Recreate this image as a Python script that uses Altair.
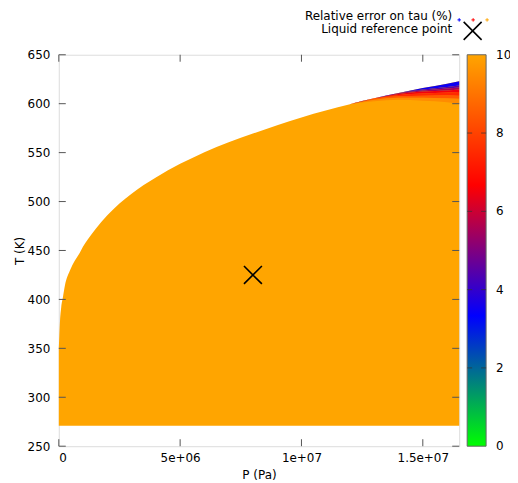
import altair as alt
import pandas as pd

# Saturation boundary of the plotted region
sat_P = [0, 2e4, 5e4, 1e5, 1.75e5, 2.5e5, 4.5e5, 6e5, 8.6e5, 1.0e6, 1.2e6, 1.5e6, 2e6, 3e6,
         4e6, 5e6, 6e6, 7e6, 8e6, 9e6, 1e7, 1.1e7, 1.2e7, 1.3e7, 1.4e7, 1.5e7, 1.6e7, 1.65e7]
sat_T = [350, 362, 378, 392, 403, 414, 429, 437, 447.5, 454, 461.5, 471.5, 486, 508,
         524.5, 538.5, 550.5, 560.5, 569.5, 578, 586, 593, 599.5, 605.5, 611, 616, 620.5, 623]
T_min = 271

# Coloured strip below the boundary at high pressure: depth (K) below the curve
# where the relative error drops under each band's value
band_P = [1.2e7, 1.3e7, 1.4e7, 1.5e7, 1.6e7, 1.65e7]
band_err = [9.5, 8.5, 7.5, 6.5, 5.5, 4.5, 3.5]
band_depth = [
    [0, 3.0, 7.0, 13.0, 19.0, 23.0],
    [0, 1.5, 5.0, 10.0, 15.0, 18.0],
    [0, 0.5, 3.5, 8.0, 12.0, 15.0],
    [0, 0.0, 2.0, 5.5, 9.0, 11.0],
    [0, 0.0, 1.0, 3.5, 7.0, 8.5],
    [0, 0.0, 0.3, 2.5, 5.0, 6.5],
    [0, 0.0, 0.0, 1.5, 3.5, 4.5],
]

ref_P = [8e6]
ref_T = [425]

x_ticks = [0, 5e6, 1e7, 1.5e7]
x_tick_labels = ["0", "5e+06", "1e+07", "1.5e+07"]
y_ticks = [250, 300, 350, 400, 450, 500, 550, 600, 650]
cbar_ticks = [0, 2, 4, 6, 8, 10]
cbar_min, cbar_max = 0, 10

pal_domain = [0, 10 / 3, 20 / 3, 10]
pal_range = ["#00ff00", "#0000ff", "#ff0000", "#ffa500"]

key_labels = ["Relative error on tau (%)", "Liquid reference point"]
key_sample_colors = ["#0000ff", "#ff0000", "#ffa500"]

FONT = "DejaVu Sans"
W, H = 402, 393
TICK = 7
T_LO, T_HI = 250, 650
CB_X0, CB_W = W + 8, 19

base_df = pd.DataFrame({"P": sat_P, "T": sat_T, "Tlo": [T_min] * len(sat_P)})
tsat = dict(zip(sat_P, sat_T))
rows = []
for k, e in enumerate(band_err):
    for i, p in enumerate(band_P):
        lo = tsat[p] - band_depth[k][i]
        hi = tsat[p] - (band_depth[k + 1][i] if k + 1 < len(band_err) else 0)
        rows.append({"P": p, "lo": lo, "hi": hi, "err": e, "band": k})
band_df = pd.DataFrame(rows)

label_expr = " : ".join(
    f"datum.value == {v} ? '{l}'" for v, l in zip(x_ticks, x_tick_labels)
) + " : ''"

xscale = alt.Scale(domain=[0, 1.65e7], nice=False)
yscale = alt.Scale(domain=[T_LO, T_HI], nice=False)

xaxis = alt.Axis(values=x_ticks, labelExpr=label_expr, ticks=False, domain=False, grid=False,
                 title="P (Pa)", labelPadding=6, titlePadding=6, labelFontSize=12,
                 titleFontSize=12, titleFontWeight="normal", labelFont=FONT, titleFont=FONT,
                 labelColor="#000", titleColor="#000")
yaxis = alt.Axis(values=y_ticks, ticks=False, domain=False, grid=False, title="T (K)",
                 labelPadding=9, titlePadding=1, labelFontSize=12, titleFontSize=12,
                 titleFontWeight="normal", labelFont=FONT, titleFont=FONT,
                 labelColor="#000", titleColor="#000")

base = alt.Chart(base_df).mark_area(color="#ffa500", opacity=1, interpolate="monotone").encode(
    x=alt.X("P:Q", scale=xscale, axis=xaxis),
    y=alt.Y("Tlo:Q", scale=yscale, axis=yaxis),
    y2="T:Q",
)

bands = alt.Chart(band_df).mark_area(opacity=1, strokeWidth=0, interpolate="monotone").encode(
    x=alt.X("P:Q", scale=xscale),
    y=alt.Y("lo:Q", scale=yscale),
    y2="hi:Q",
    color=alt.Color("err:Q",
                    scale=alt.Scale(domain=pal_domain, range=pal_range, interpolate="rgb"),
                    legend=None),
    detail="band:N",
)

# colour bar
stops = [alt.GradientStop(offset=(d - cbar_min) / (cbar_max - cbar_min), color=c)
         for d, c in zip(pal_domain, pal_range)]
cbar = alt.Chart(pd.DataFrame({"a": [0]})).mark_rect(
    color=alt.Gradient(gradient="linear", stops=stops, x1=0, x2=0, y1=1, y2=0),
    stroke="#666", strokeWidth=1,
).encode(x=alt.value(CB_X0), x2=alt.value(CB_X0 + CB_W), y=alt.value(0), y2=alt.value(H))

cb_df = pd.DataFrame({"v": cbar_ticks})
cb_pos = f"{T_LO} + (datum.v - {cbar_min}) / ({cbar_max} - {cbar_min}) * ({T_HI} - {T_LO})"
cbar_labels = alt.Chart(cb_df).transform_calculate(
    pos=cb_pos, lab="format(datum.v, 'd')",
).mark_text(align="left", baseline="middle", font=FONT, fontSize=12, color="#000").encode(
    y=alt.Y("pos:Q", scale=yscale), x=alt.value(CB_X0 + CB_W + 10), text="lab:N")
cb_inner = cb_df[(cb_df.v > cbar_min) & (cb_df.v < cbar_max)]
cbar_t1 = alt.Chart(cb_inner).transform_calculate(pos=cb_pos).mark_rule(
    color="#333", strokeWidth=1, opacity=0.7).encode(
    y=alt.Y("pos:Q", scale=yscale), x=alt.value(CB_X0), x2=alt.value(CB_X0 + 5))
cbar_t2 = alt.Chart(cb_inner).transform_calculate(pos=cb_pos).mark_rule(
    color="#333", strokeWidth=1, opacity=0.7).encode(
    y=alt.Y("pos:Q", scale=yscale), x=alt.value(CB_X0 + CB_W - 5), x2=alt.value(CB_X0 + CB_W))

ref = alt.Chart(pd.DataFrame({"P": ref_P, "T": ref_T})).mark_point(
    shape="M-1,-1L1,1M-1,1L1,-1", size=324, filled=False, color="black", strokeWidth=1.6,
    opacity=1,
).encode(x=alt.X("P:Q", scale=xscale), y=alt.Y("T:Q", scale=yscale))

xt = pd.DataFrame({"P": x_ticks})
yt = pd.DataFrame({"T": y_ticks})
tick_color = "#555"
xt_bot = alt.Chart(xt).mark_rule(color=tick_color, strokeWidth=1).encode(
    x=alt.X("P:Q", scale=xscale), y=alt.value(H), y2=alt.value(H - TICK))
xt_top = alt.Chart(xt).mark_rule(color=tick_color, strokeWidth=1).encode(
    x=alt.X("P:Q", scale=xscale), y=alt.value(0), y2=alt.value(TICK))
yt_left = alt.Chart(yt).mark_rule(color=tick_color, strokeWidth=1).encode(
    y=alt.Y("T:Q", scale=yscale), x=alt.value(0), x2=alt.value(TICK))
yt_right = alt.Chart(yt).mark_rule(color=tick_color, strokeWidth=1).encode(
    y=alt.Y("T:Q", scale=yscale), x=alt.value(W), x2=alt.value(W - TICK))

key_text1 = alt.Chart(pd.DataFrame({"t": [key_labels[0]]})).mark_text(
    align="right", baseline="middle", font=FONT, fontSize=12, color="#000"
).encode(text="t:N", x=alt.value(395), y=alt.value(-39))
key_text2 = alt.Chart(pd.DataFrame({"t": [key_labels[1]]})).mark_text(
    align="right", baseline="middle", font=FONT, fontSize=12, color="#000"
).encode(text="t:N", x=alt.value(395), y=alt.value(-26))

plus_shape = "M-1,0L1,0M0,-1L0,1"
key_plus = []
for xv, col in zip([402, 416, 430], key_sample_colors):
    key_plus.append(alt.Chart(pd.DataFrame({"a": [0]})).mark_point(
        shape=plus_shape, size=12, filled=False, color=col, strokeWidth=1, opacity=1
    ).encode(x=alt.value(xv), y=alt.value(-35)))
key_x = alt.Chart(pd.DataFrame({"a": [0]})).mark_point(
    shape="M-1,-1L1,1M-1,1L1,-1", size=324, filled=False, color="black", strokeWidth=1.6,
    opacity=1,
).encode(x=alt.value(415.5), y=alt.value(-24))

chart = alt.layer(
    base, bands, ref, xt_bot, xt_top, yt_left, yt_right, cbar, cbar_t1, cbar_t2, cbar_labels,
    key_text1, key_text2, key_x, *key_plus
).properties(
    width=W, height=H,
    autosize=alt.AutoSizeParams(type="none"),
    padding={"left": 51, "top": 46, "right": 51, "bottom": 35},
).configure_view(stroke="#666", strokeWidth=1).configure(background="white")

chart.save("out.html", embed_options={"renderer": "svg", "actions": False})
